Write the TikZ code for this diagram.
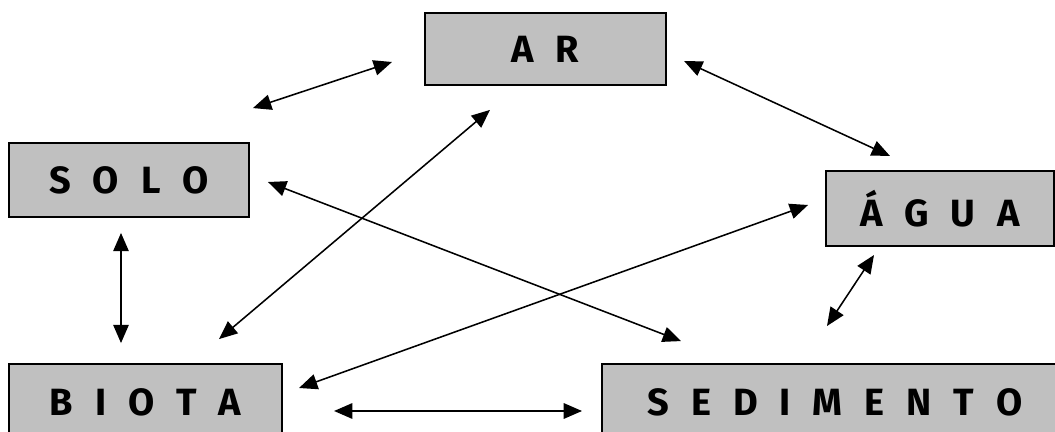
\documentclass[tikz,border=0pt]{standalone}
\usepackage{fontspec}
\newfontfamily\boxfont[LetterSpace=34]{Fira Sans}
\usepackage{xcolor}
\usepackage{tikz}
\usetikzlibrary{arrows.meta,positioning}

\definecolor{boxgray}{HTML}{C0C0C0}

\begin{document}
\begin{tikzpicture}[
    x=0.025cm, y=-0.025cm,
    box/.style={rectangle, draw, fill=boxgray, line width=1.3pt, inner sep=0pt, align=center,
                font=\boxfont\fontsize{27}{30}\selectfont\bfseries},
    arrow/.style={{Triangle[length=13pt,width=11pt]}-{Triangle[length=13pt,width=11pt]}, line width=1.1pt}
]

\useasboundingbox (0,0) rectangle (1055,432);
\clip (0,0) rectangle (1055,432);

% Compartments
\node[box, minimum width=6.03cm, minimum height=1.8cm] (ar) at (545.5,49) {A R};
\node[box, minimum width=6cm, minimum height=1.85cm] (solo) at (129,180) {S O L O};
\node[box, minimum width=5.7cm, minimum height=1.88cm] (agua) at (940,208.5) {Á G U A};
\node[box, minimum width=6.83cm, minimum height=1.9cm] (biota) at (145.5,402) {B I O T A};
\node[box, minimum width=11.65cm, minimum height=1.9cm] (sedimento) at (835,402) {S E D I M E N T O};

% Free ends
\coordinate (ar-left) at ([shift={(-32,13)}]ar.west);
\coordinate (solo-up) at ([shift={(3,-34)}]solo.north east);
\coordinate (agua-down) at ([shift={(-113,79)}]agua.south);

% Exchanges
\draw[arrow] (solo-up) -- (ar-left);
\draw[arrow] ([shift={(17,12)}]ar.east) -- ([shift={(-50,-14)}]agua.north);
\draw[arrow] ([shift={(18,2)}]solo.east) -- ([shift={(80,-22)}]sedimento.north west);
\draw[arrow] ([shift={(-55.5,24)}]ar.south) -- ([shift={(-64,-24)}]biota.north east);
\draw[arrow] ([shift={(-17,-3.5)}]agua.west) -- ([shift={(16,-14)}]biota.east);
\draw[arrow] ([shift={(-8,15)}]solo.south) -- ([shift={(-24.5,-20)}]biota.north);
\draw[arrow] ([shift={(-66,8)}]agua.south) -- (agua-down);
\draw[arrow] ([shift={(51,9)}]biota.east) -- ([shift={(-19,9)}]sedimento.west);

\end{tikzpicture}
\end{document}
